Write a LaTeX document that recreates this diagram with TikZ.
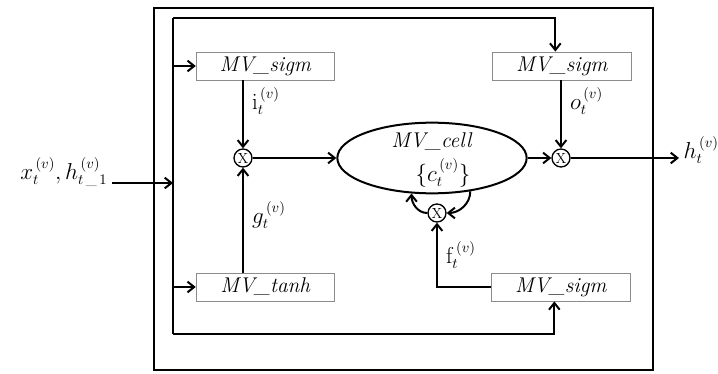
\documentclass[tikz,border=0pt]{standalone}
\usepackage{amsmath}
\usepackage{tikz}
\usetikzlibrary{arrows.meta,positioning,calc,shapes.geometric}

\begin{document}
\begin{tikzpicture}[
  x=0.75pt, y=-0.75pt,
  every node/.style={font=\fontsize{16}{19}\selectfont},
  gatebox/.style={rectangle, draw=black!45, line width=0.6pt, minimum width=104pt, minimum height=21pt, inner sep=0pt},
  mult/.style={circle, draw, line width=1pt, minimum size=13.5pt, inner sep=0pt, font=\fontsize{11}{11}\selectfont},
  cellnode/.style={ellipse, draw, line width=1.5pt, minimum width=142pt, minimum height=53pt},
  wire/.style={line width=1.5pt},
  arr/.style={->, >={Straight Barb[length=5pt,width=8pt]}, line width=1.5pt},
  lbl/.style={inner sep=1pt}
]
  \useasboundingbox (0,0) rectangle (718,374);
  % frame of the cell
  \draw[wire] (154,8) rectangle (653,370);

  % gates
  \node[gatebox] (isig)  at (265.5,66)  {\textit{MV\_sigm}};
  \node[gatebox] (osig)  at (562,66)    {\textit{MV\_sigm}};
  \node[gatebox] (gtanh) at (265.5,287) {\textit{MV\_tanh}};
  \node[gatebox] (fsig)  at (561,287)   {\textit{MV\_sigm}};

  \node[mult] (mi) at (243,158) {X};
  \node[mult] (mo) at (561,158) {X};
  \node[mult] (mf) at (437,213) {X};

  \node[cellnode] (cell) at (432,158) {};
  \node (celltxt) at (432,142) {\textit{MV\_cell}};
  \node (cval)    at (443,173) {$\{c_t^{\,(v)}\}$};

  % input bus
  \coordinate (bt) at (173,18);
  \coordinate (bb) at (173,334);
  \coordinate (busin) at (173,183);
  \node[anchor=east] (xin) at (112,172) {$x_t^{\,(v)}, h_{t\,\_\,1}^{\,(v)}$};
  \node[anchor=west] (hout) at (679,150) {$h_t^{\,(v)}$};
  \draw[arr] (xin.east |- busin) -- (busin);
  \draw[wire] (bt) -- (bb);
  \draw[arr] (bt) -| ([xshift=-5pt]osig.north);
  \draw[arr] (bb) -| ([xshift=-5pt]fsig.south);
  \draw[arr] (bt |- isig) -- (isig.west);
  \draw[arr] (bt |- gtanh) -- (gtanh.west);

  % gate signals
  \draw[arr] (isig.south -| mi) -- (mi.north) node[lbl, pos=0.3, right=5pt] {$\mathrm{i}_t^{\,(v)}$};
  \draw[arr] (gtanh.north -| mi) -- (mi.south) node[lbl, pos=0.55, right=5pt] {$g_t^{\,(v)}$};
  \draw[arr] (osig.south -| mo) -- (mo.north) node[lbl, pos=0.3, right=5pt] {$o_t^{\,(v)}$};
  \draw[arr] (fsig.west) -| (mf.south) node[lbl, pos=0.75, right=5pt] {$\mathrm{f}_t^{\,(v)}$};
  \draw[arr] (mi) -- (cell);
  \draw[arr] (cell) -- (mo);
  \draw[arr] (mo) -- (hout.west |- mo);

  % forget loop
  \draw[arr] (cell.-41) to[out=-90, in=0] (mf.east);
  \draw[arr] (mf.west) to[out=180, in=-90] (cell.-120);
\end{tikzpicture}
\end{document}
